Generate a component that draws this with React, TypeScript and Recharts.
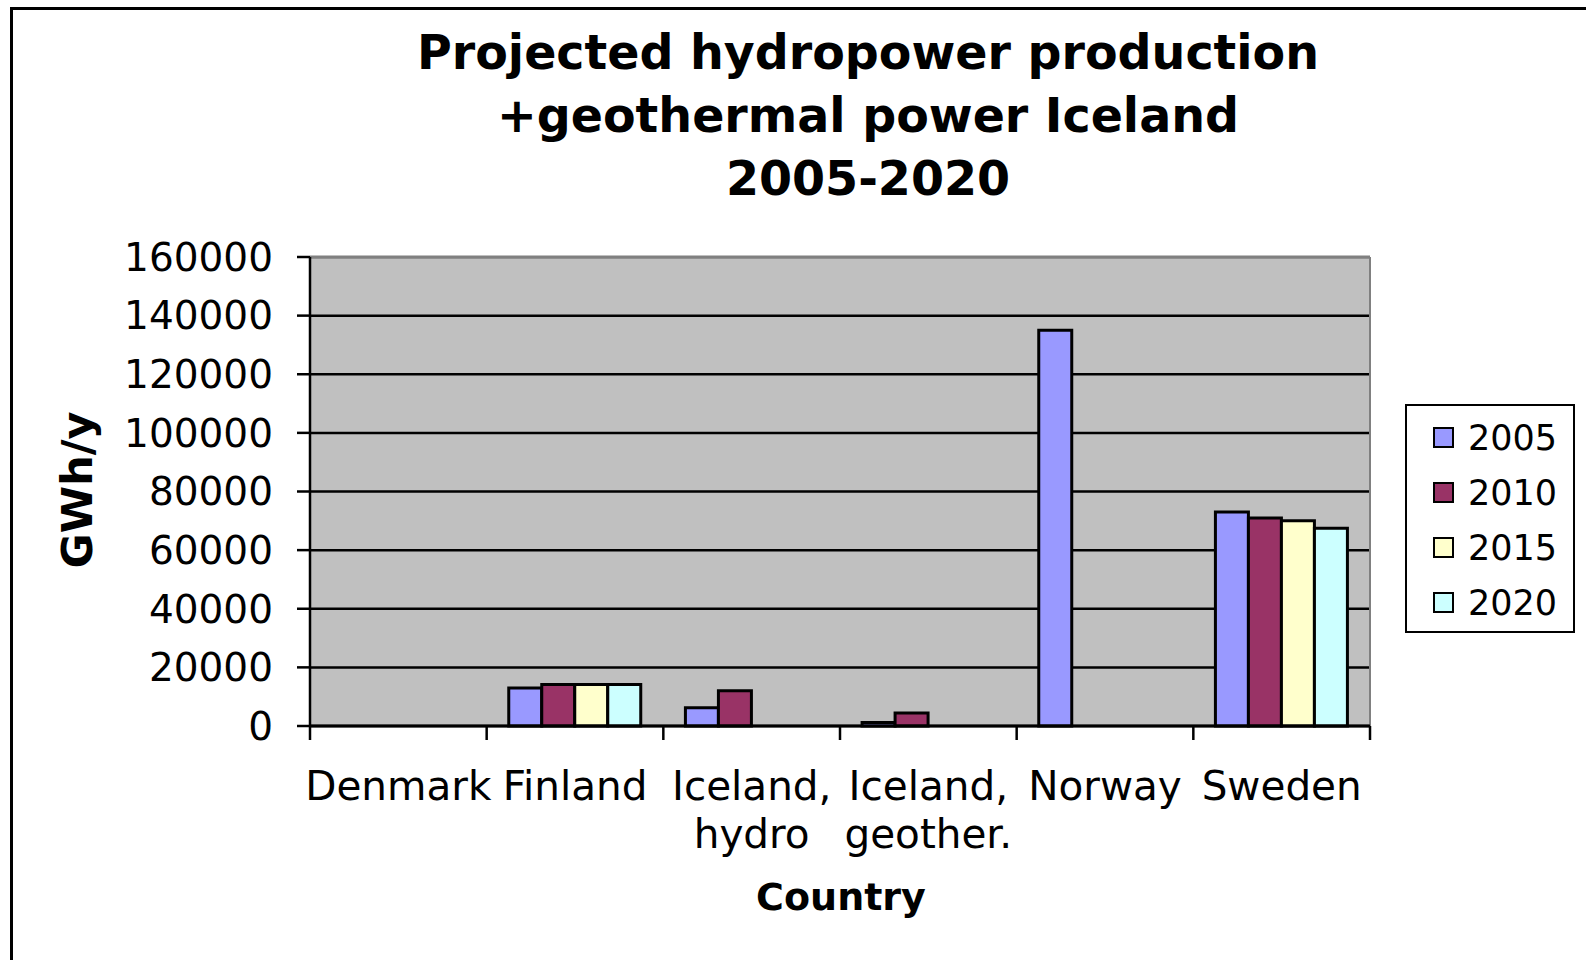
import React from "react";
import {
  BarChart,
  Bar,
  XAxis,
  YAxis,
  CartesianGrid,
  ReferenceLine,
  Legend,
} from "recharts";

const categories = [
  "Denmark",
  "Finland",
  "Iceland, hydro",
  "Iceland, geother.",
  "Norway",
  "Sweden",
];
const y2005 = [null, 13000, 6200, 1200, 135000, 73000];
const y2010 = [null, 14200, 12000, 4400, null, 71000];
const y2015 = [null, 14200, null, null, null, 70000];
const y2020 = [null, 14200, null, null, null, 67500];
const yTicks = [0, 20000, 40000, 60000, 80000, 100000, 120000, 140000, 160000];

const seriesList = [
  { key: "2005", values: y2005, color: "#9999FF" },
  { key: "2010", values: y2010, color: "#993366" },
  { key: "2015", values: y2015, color: "#FFFFCC" },
  { key: "2020", values: y2020, color: "#CCFFFF" },
];

const data = categories.map((name, i) => {
  const row: Record<string, any> = { name };
  seriesList.forEach((s) => (row[s.key] = s.values[i]));
  return row;
});

const FONT = "'DejaVu Sans', Verdana, sans-serif";

const W = 1586;
const H = 960;
const margin = { top: 257, right: 216, bottom: 84, left: 200 };
const Y_AXIS_W = 110;
const plotW = W - margin.left - margin.right - Y_AXIS_W;
const band = plotW / categories.length;

// category labels split after the comma, plus Excel-style ticks between categories
function CountryTick(props: any) {
  const { x, y, payload, index } = props;
  const parts = String(payload.value).split(", ");
  const lines = parts.length > 1 ? [parts[0] + ",", parts[1]] : parts;
  const left = x - band / 2;
  const right = x + band / 2;
  return (
    <g>
      <line x1={left} x2={left} y1={y} y2={y + 14} stroke="#000" strokeWidth={2.5} />
      {index === categories.length - 1 && (
        <line x1={right} x2={right} y1={y} y2={y + 14} stroke="#000" strokeWidth={2.5} />
      )}
      <text
        x={x}
        y={y}
        textAnchor="middle"
        fontFamily={FONT}
        fontSize={40.5}
        fill="#000"
      >
        {lines.map((l, i) => (
          <tspan key={i} x={x} y={y + 74 + i * 48}>
            {l}
          </tspan>
        ))}
      </text>
    </g>
  );
}

function LegendBox() {
  return (
    <div
      style={{
        width: 166,
        height: 221,
        border: "2px solid #000",
        background: "#fff",
        fontFamily: FONT,
        fontSize: 35,
        boxSizing: "content-box",
        paddingTop: 4,
      }}
    >
      {seriesList.map((s) => (
        <div
          key={s.key}
          style={{ display: "flex", alignItems: "center", height: 55 }}
        >
          <span
            style={{
              display: "inline-block",
              width: 17,
              height: 17,
              marginLeft: 26,
              marginRight: 14,
              background: s.color,
              border: "2px solid #000",
            }}
          />
          <span>{s.key}</span>
        </div>
      ))}
    </div>
  );
}

export default function App() {
  return (
    <div
      style={{
        position: "fixed",
        left: 0,
        top: 0,
        width: W,
        height: H,
        overflow: "hidden",
        background: "#fff",
      }}
    >
      <div
        style={{
          position: "absolute",
          left: 10,
          top: 7,
          width: 1590,
          height: 1000,
          border: "3px solid #000",
        }}
      />
      <div
        style={{
          position: "absolute",
          left: 0,
          width: 1736,
          top: 21,
          textAlign: "center",
          fontFamily: FONT,
          fontWeight: "bold",
          fontSize: 47.5,
          lineHeight: "63px",
        }}
      >
        Projected hydropower production
        <br />
        +geothermal power Iceland
        <br />
        2005-2020
      </div>
      <div
        style={{
          position: "absolute",
          left: 77,
          top: 490,
          transform: "translate(-50%, -50%) rotate(-90deg)",
          fontFamily: FONT,
          fontWeight: "bold",
          fontSize: 43,
          whiteSpace: "nowrap",
        }}
      >
        GWh/y
      </div>
      <div
        style={{
          position: "absolute",
          left: 841,
          top: 897,
          transform: "translate(-50%, -50%)",
          fontFamily: FONT,
          fontWeight: "bold",
          fontSize: 38,
          whiteSpace: "nowrap",
        }}
      >
        Country
      </div>
      <div style={{ position: "absolute", left: 0, top: 0 }}>
        <BarChart
          width={W}
          height={H}
          data={data}
          margin={margin}
          barCategoryGap="12.5%"
          barGap={0}
        >
          <CartesianGrid
            vertical={false}
            fill="#C0C0C0"
            fillOpacity={1}
            stroke="#000"
            strokeWidth={2.5}
          />
          <CartesianGrid
            horizontal={false}
            stroke="#808080"
            strokeWidth={2}
            verticalCoordinatesGenerator={({ offset }: any) => [
              offset.left + offset.width,
            ]}
          />
          <XAxis
            dataKey="name"
            height={150}
            axisLine={{ stroke: "#000", strokeWidth: 3 }}
            tickLine={false}
            tickSize={0}
            tickMargin={0}
            interval={0}
            tick={<CountryTick />}
          />
          <YAxis
            width={Y_AXIS_W}
            domain={[0, 160000]}
            ticks={yTicks}
            interval={0}
            tickSize={13}
            tickMargin={24}
            axisLine={{ stroke: "#000", strokeWidth: 2.5 }}
            tickLine={{ stroke: "#000", strokeWidth: 2.5 }}
            tick={{ fontFamily: FONT, fontSize: 39, fill: "#000" }}
          />
          <ReferenceLine y={160000} stroke="#808080" strokeWidth={2} />
          {seriesList.map((s) => (
            <Bar
              key={s.key}
              dataKey={s.key}
              fill={s.color}
              stroke="#000"
              strokeWidth={3}
              isAnimationActive={false}
            />
          ))}
          <Legend
            layout="horizontal"
            verticalAlign="middle"
            content={() => <LegendBox />}
            wrapperStyle={{ top: 404, left: 1405, width: 170 }}
          />
        </BarChart>
      </div>
    </div>
  );
}
